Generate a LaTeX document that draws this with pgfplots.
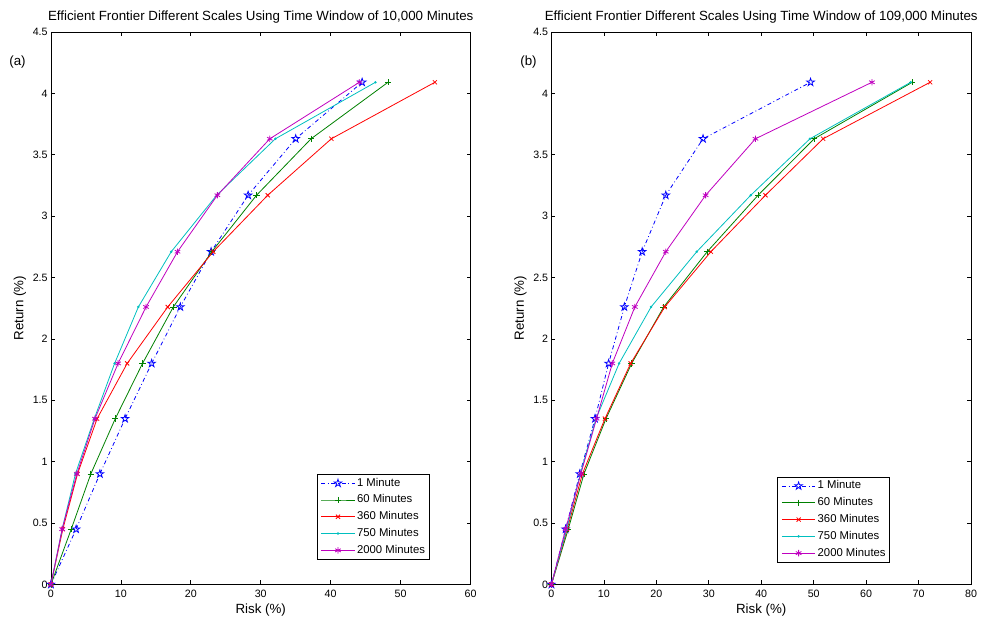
\documentclass[border=0pt]{standalone}
\usepackage{fontspec}
\setmainfont{Liberation Sans}
\usepackage{pgfplots}
\pgfplotsset{compat=1.18}
\definecolor{mblue}{rgb}{0,0,1}
\definecolor{mgreen}{rgb}{0,0.5,0}
\definecolor{mred}{rgb}{1,0,0}
\definecolor{mcyan}{rgb}{0,0.75,0.75}
\definecolor{mmag}{rgb}{0.75,0,0.75}
\pgfdeclareplotmark{pentagram}{%
  \pgfpathmoveto{\pgfqpointpolar{90}{\pgfplotmarksize}}%
  \pgfpathlineto{\pgfqpointpolar{126}{0.382\pgfplotmarksize}}%
  \pgfpathlineto{\pgfqpointpolar{162}{\pgfplotmarksize}}%
  \pgfpathlineto{\pgfqpointpolar{198}{0.382\pgfplotmarksize}}%
  \pgfpathlineto{\pgfqpointpolar{234}{\pgfplotmarksize}}%
  \pgfpathlineto{\pgfqpointpolar{270}{0.382\pgfplotmarksize}}%
  \pgfpathlineto{\pgfqpointpolar{306}{\pgfplotmarksize}}%
  \pgfpathlineto{\pgfqpointpolar{342}{0.382\pgfplotmarksize}}%
  \pgfpathlineto{\pgfqpointpolar{18}{\pgfplotmarksize}}%
  \pgfpathlineto{\pgfqpointpolar{54}{0.382\pgfplotmarksize}}%
  \pgfpathclose\pgfusepathqstroke}
\pgfplotsset{
  mstyle/.style={
    scale only axis, width=315pt, height=414.75pt,
    ymin=0, ymax=4.5, ytick={0,0.5,...,4.5},
    tick align=inside, tick pos=both, major tick length=3pt,
    tick style={black, line width=0.5pt},
    axis line style={black, line width=0.6pt},
    /pgf/number format/assume math mode=true,
    /pgf/number format/fixed,
    every tick label/.append style={font=\fontsize{8}{9}\selectfont},
    yticklabel style={xshift=1pt},
    xticklabel style={yshift=-0.5pt},
    every axis title shift=0pt,
    title style={font=\fontsize{10}{11}\selectfont, at={(axis description cs:0.5,1.0271)}, anchor=center},
    label style={font=\fontsize{10}{11}\selectfont},
    xlabel={Risk (\%)}, ylabel={Return (\%)},
    xlabel style={at={(axis description cs:0.5,-0.047)}, anchor=center},
    ylabel style={at={(axis description cs:-0.0738,0.5)}, anchor=center},
    legend style={font=\fontsize{8.5}{9.5}\selectfont, draw=black, fill=white,
      line width=0.6pt, inner xsep=3pt, inner ysep=2.5pt, row sep=4.4pt,
      nodes={inner sep=0pt, text height=6.3pt, text depth=1.9pt},
      column sep=1.5pt, cells={anchor=west}},
    legend image code/.code={\draw[mark repeat=2,mark phase=2] plot coordinates {(0pt,0pt) (12.5pt,0pt) (25pt,0pt)};},
    every axis plot/.append style={line width=0.6pt, mark options={solid}},
    clip mode=individual,
  },
  s1/.style={color=mblue, dashdotted, mark=pentagram, mark size=3pt},
  s2/.style={color=mgreen, mark=+, mark size=2.4pt},
  s3/.style={color=mred, mark=x, mark size=2.2pt},
  s4/.style={color=mcyan, mark=*, mark size=0.6pt},
  s5/.style={color=mmag, mark=asterisk, mark size=2.4pt},
}
\begin{document}
\begin{tikzpicture}
\begin{axis}[mstyle, name=L, xmin=0, xmax=60, xtick={0,10,...,60},
  title={Efficient Frontier Different Scales Using Time Window of 10,000 Minutes},
  legend style={at={(0.902,0.045)}, anchor=south east}]
\addplot[s1] coordinates {(0,0) (3.6,0.45) (7.0,0.9) (10.6,1.35) (14.4,1.8) (18.5,2.26) (22.9,2.71) (28.2,3.17) (35.0,3.63) (44.5,4.09)};
\addplot[s2] coordinates {(0,0) (2.9,0.45) (5.7,0.9) (9.2,1.35) (13.1,1.8) (17.5,2.26) (23.0,2.71) (29.4,3.17) (37.2,3.63) (48.2,4.09)};
\addplot[s3] coordinates {(0,0) (1.7,0.45) (3.8,0.9) (6.6,1.35) (10.9,1.8) (16.7,2.26) (23.2,2.71) (31.0,3.17) (40.1,3.63) (54.9,4.09)};
\addplot[s4] coordinates {(0,0) (1.6,0.45) (3.5,0.9) (6.2,1.35) (9.1,1.8) (12.5,2.26) (17.2,2.71) (23.7,3.17) (32.1,3.63) (46.4,4.09)};
\addplot[s5] coordinates {(0,0) (1.6,0.45) (3.7,0.9) (6.3,1.35) (9.6,1.8) (13.6,2.26) (18.1,2.71) (23.8,3.17) (31.3,3.63) (44.1,4.09)};
\legend{1 Minute, 60 Minutes, 360 Minutes, 750 Minutes, 2000 Minutes}
\node[font=\fontsize{10}{11}\selectfont] at (rel axis cs:-0.0798,0.9458) {(a)};
\end{axis}
\begin{axis}[mstyle, name=R, xshift=375.75pt, xmin=0, xmax=80, xtick={0,10,...,80},
  title={Efficient Frontier Different Scales Using Time Window of 109,000 Minutes},
  legend style={at={(0.807,0.04)}, anchor=south east}]
\addplot[s1] coordinates {(0,0) (2.7,0.45) (5.4,0.9) (8.3,1.35) (10.9,1.8) (13.9,2.26) (17.3,2.71) (21.8,3.17) (28.9,3.63) (49.4,4.09)};
\addplot[s2] coordinates {(0,0) (3.2,0.45) (6.2,0.9) (10.4,1.35) (15.3,1.8) (21.4,2.26) (29.7,2.71) (39.4,3.17) (50.1,3.63) (68.8,4.09)};
\addplot[s3] coordinates {(0,0) (3.0,0.45) (5.9,0.9) (10.2,1.35) (15.1,1.8) (21.6,2.26) (30.4,2.71) (40.8,3.17) (51.8,3.63) (72.2,4.09)};
\addplot[s4] coordinates {(0,0) (2.9,0.45) (5.5,0.9) (8.5,1.35) (12.9,1.8) (19.0,2.26) (27.7,2.71) (38.0,3.17) (49.3,3.63) (68.5,4.09)};
\addplot[s5] coordinates {(0,0) (2.7,0.45) (5.6,0.9) (8.6,1.35) (11.6,1.8) (15.9,2.26) (21.8,2.71) (29.4,3.17) (38.9,3.63) (61.1,4.09)};
\legend{1 Minute, 60 Minutes, 360 Minutes, 750 Minutes, 2000 Minutes}
\node[font=\fontsize{10}{11}\selectfont] at (rel axis cs:-0.0548,0.9458) {(b)};
\end{axis}
\pgfresetboundingbox
\path[use as bounding box] ([shift={(-38.25pt,-25.5pt)}]L.south west) rectangle ([shift={(9.75pt,24pt)}]R.north east);
\end{tikzpicture}
\end{document}
